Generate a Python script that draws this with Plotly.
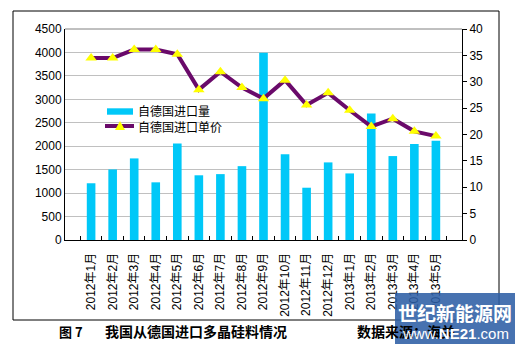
import plotly.graph_objects as go

categories = ["2012年1月", "2012年2月", "2012年3月", "2012年4月", "2012年5月", "2012年6月",
              "2012年7月", "2012年8月", "2012年9月", "2012年10月", "2012年11月", "2012年12月",
              "2013年1月", "2013年2月", "2013年3月", "2013年4月", "2013年5月"]
volume = [1210, 1505, 1740, 1230, 2060, 1380, 1405, 1575, 3995, 1828, 1115, 1655,
          1420, 2700, 1790, 2045, 2115]
price = [34.5, 34.5, 36.1, 36.1, 35.2, 28.5, 31.9, 28.9, 26.8, 30.3, 25.6, 27.9,
         24.6, 21.5, 23.0, 20.6, 19.7]
series_names = ["自德国进口量", "自德国进口单价"]

left_ticks = list(range(0, 4501, 500))
right_ticks = list(range(0, 41, 5))

font_main = "Liberation Sans, Arial, Noto Sans CJK SC, sans-serif"
font_cjk = "Noto Sans CJK SC, sans-serif"

BAR_COLOR = "#00C8F8"
LINE_COLOR = "#6A0A6A"
MARK_COLOR = "#FFFF00"

# plot area in pixels: x 65..462, y 29..240
L, R, T, B = 65, 462, 29, 240
def px(x):
    return (x - L) / (R - L)
def py(y):
    return (B - y) / (B - T)

fig = go.Figure()
fig.add_trace(go.Bar(x=categories, y=volume, name=series_names[0],
                     marker=dict(color=BAR_COLOR, line=dict(width=0))))
fig.add_trace(go.Scatter(x=categories, y=price, name=series_names[1], yaxis="y2",
                         mode="lines+markers",
                         line=dict(color=LINE_COLOR, width=4),
                         marker=dict(symbol="triangle-up", size=10, color=MARK_COLOR,
                                     line=dict(width=0))))

fig.update_layout(
    width=519, height=350,
    margin=dict(l=L, r=519 - R, t=T, b=350 - B),
    paper_bgcolor="white", plot_bgcolor="white",
    font=dict(family=font_main, size=12, color="black"),
    bargap=0.6,
    showlegend=False,
    xaxis=dict(tickangle=-90, showline=True, linecolor="black", linewidth=1,
               ticks="inside", ticklen=4, tickson="boundaries", tickcolor="black",
               ticklabelstandoff=7,
               tickfont=dict(family=font_main, size=12), showgrid=False),
    yaxis=dict(range=[0, 4500], tickvals=left_ticks, showline=True, linecolor="black",
               linewidth=1, gridcolor="#C0C0C0", gridwidth=1, zeroline=False,
               ticks="", tickfont=dict(size=12)),
    yaxis2=dict(range=[0, 40], tickvals=right_ticks, overlaying="y", side="right",
                showline=True, linecolor="black", linewidth=1, showgrid=False,
                zeroline=False, ticks="outside", ticklen=4, tickcolor="black",
                tickfont=dict(size=12)),
)

# custom legend geometry (pixels)
y_leg1, y_leg2 = 111.5, 126.0
tri_cx, tri_cy = 120, y_leg2
tri_path = "M {} {} L {} {} L {} {} Z".format(
    px(tri_cx - 5), py(tri_cy + 4), px(tri_cx + 5), py(tri_cy + 4), px(tri_cx), py(tri_cy - 5))

shapes = [
    # outer chart border
    dict(type="rect", xref="paper", yref="paper", x0=px(13), x1=px(499), y0=py(320), y1=py(11),
         line=dict(color="black", width=1), fillcolor="rgba(0,0,0,0)", layer="below"),
    # top border of plot area
    dict(type="line", xref="paper", yref="paper", x0=0, x1=1, y0=1, y1=1,
         line=dict(color="#808080", width=1)),
    # legend: bar symbol
    dict(type="rect", xref="paper", yref="paper", x0=px(107), x1=px(133),
         y0=py(y_leg1 + 3.2), y1=py(y_leg1 - 3.2),
         line=dict(width=0), fillcolor=BAR_COLOR),
    # legend: line symbol
    dict(type="line", xref="paper", yref="paper", x0=px(105), x1=px(134), y0=py(y_leg2), y1=py(y_leg2),
         line=dict(color=LINE_COLOR, width=4)),
    dict(type="path", xref="paper", yref="paper", path=tri_path,
         line=dict(width=0), fillcolor=MARK_COLOR),
    # watermark box
    dict(type="rect", xref="paper", yref="paper", x0=px(395), x1=px(515),
         y0=py(344), y1=py(293), line=dict(width=0),
         fillcolor="rgba(45,95,165,0.88)", layer="above"),
]
fig.update_layout(shapes=shapes)

annotations = [
    dict(text=series_names[0] + "<br>" + series_names[1], xref="paper", yref="paper",
         x=px(136), y=py((y_leg1 + y_leg2) / 2), align="left",
         xanchor="left", yanchor="middle", showarrow=False,
         font=dict(family=font_cjk, size=12, color="black")),
    dict(text="<b>图 7</b>", xref="paper", yref="paper", x=px(57), y=py(331),
         xanchor="left", yanchor="middle", showarrow=False,
         font=dict(family=font_cjk, size=13, color="black")),
    dict(text="<b>我国从德国进口多晶硅料情况</b>", xref="paper", yref="paper",
         x=px(103), y=py(331), xanchor="left", yanchor="middle", showarrow=False,
         font=dict(family=font_cjk, size=14, color="black")),
    dict(text="<b>数据来源：海关</b>", xref="paper", yref="paper",
         x=px(355), y=py(331), xanchor="left", yanchor="middle", showarrow=False,
         font=dict(family=font_cjk, size=14, color="black")),
    dict(text="<b>世纪新能源网</b>", xref="paper", yref="paper",
         x=px(455), y=py(312), xanchor="center", yanchor="middle", showarrow=False,
         font=dict(family=font_cjk, size=19, color="white")),
    dict(text="www.<b>NE21</b>.com", xref="paper", yref="paper",
         x=px(455), y=py(333), xanchor="center", yanchor="middle", showarrow=False,
         font=dict(family=font_main, size=15, color="white")),
]
fig.update_layout(annotations=annotations)

fig.write_html("out.html")
